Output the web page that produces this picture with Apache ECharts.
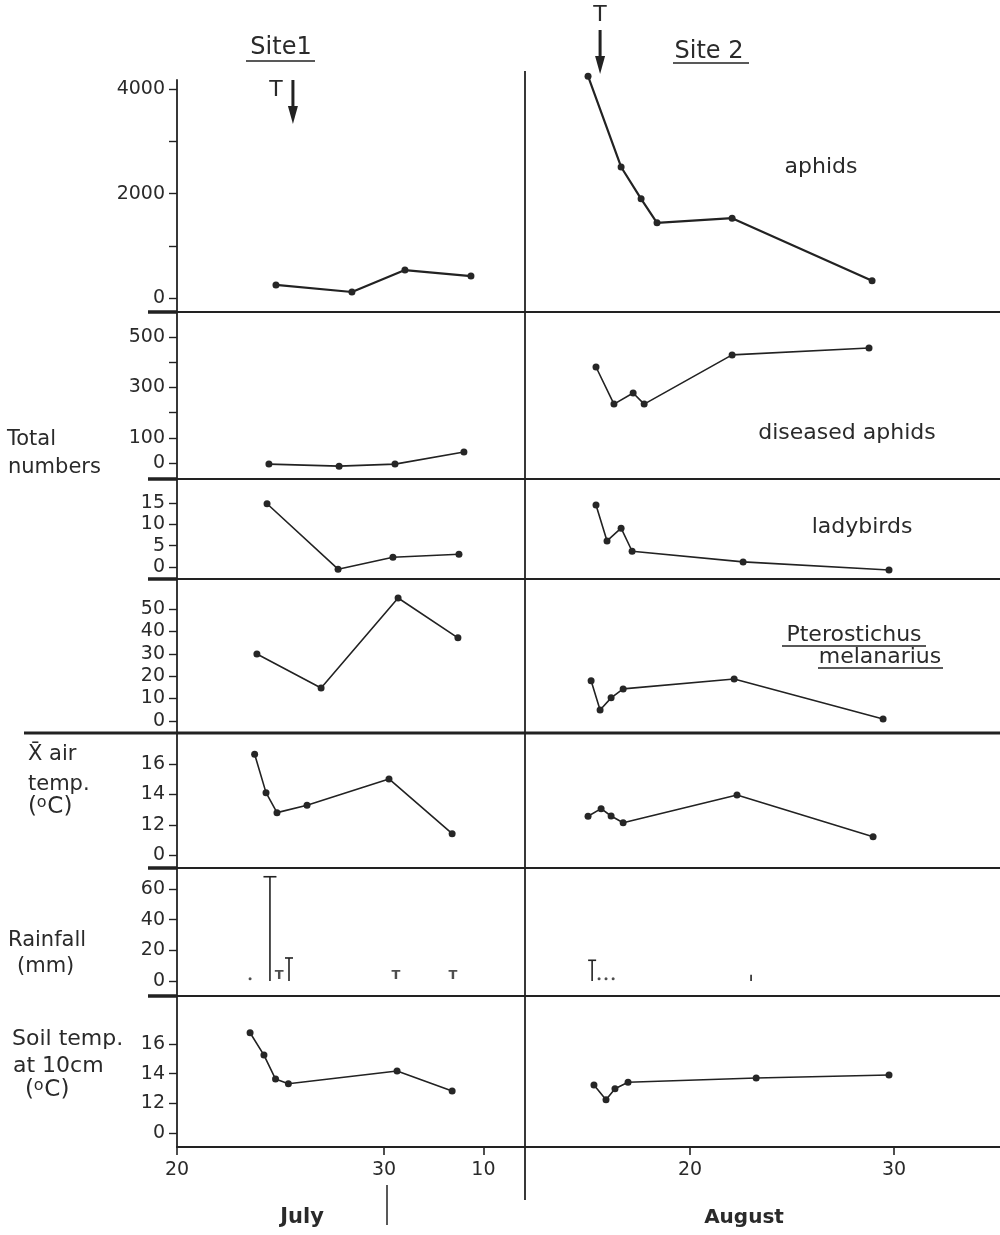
<!DOCTYPE html>
<html>
<head>
<meta charset="utf-8">
<script src="https://cdn.jsdelivr.net/npm/echarts@6/dist/echarts.min.js"></script>
<style>
  html, body { margin: 0; padding: 0; background: #fff; }
  #chart { width: 1000px; height: 1235px; }
</style>
</head>
<body>
<div id="chart"></div>
<script>
// ---- Sampling dates (Site 1 on the July scale, Site 2 on the August scale) and counts ----
const site1AphidDays = [24.78, 28.45, 31.01, 34.2];
const site1Aphids = [250, 115, 535, 420];
const site2AphidDays = [15.0, 16.62, 17.6, 18.38, 22.06, 28.92];
const site2Aphids = [4250, 2510, 1900, 1440, 1530, 330];

const site1DiseasedDays = [24.44, 27.83, 30.53, 33.86];
const site1Diseased = [-4, -12, -4, 44];
const site2DiseasedDays = [15.39, 16.27, 17.21, 17.75, 22.06, 28.77];
const site2Diseased = [381, 234, 278, 234, 429, 456];

const site1LadybirdDays = [24.35, 27.78, 30.43, 33.62];
const site1Ladybirds = [14.8, -0.5, 2.3, 3.0];
const site2LadybirdDays = [15.39, 15.93, 16.62, 17.16, 22.6, 29.75];
const site2Ladybirds = [14.5, 6.1, 9.1, 3.7, 1.2, -0.7];

const site1BeetleDays = [23.86, 26.96, 30.68, 33.57];
const site1Beetles = [29.9, 14.7, 54.9, 37.1];
const site2BeetleDays = [15.15, 15.59, 16.13, 16.72, 22.16, 29.46];
const site2Beetles = [17.9, 4.9, 10.3, 14.3, 18.75, 0.9];

const site1AirDays = [23.75, 24.3, 24.83, 26.28, 30.24, 33.29];
const site1AirTemp = [16.64, 14.12, 12.81, 13.29, 15.02, 11.43];
const site2AirDays = [15.0, 15.64, 16.13, 16.72, 22.3, 28.97];
const site2AirTemp = [12.57, 13.07, 12.59, 12.15, 13.97, 11.23];

// rainfall: measured falls (mm), traces (T) and very small falls (dots)
const site1RainDays = [24.49, 25.41];
const site1Rain = [68, 15];
const site1TraceDays = [24.93, 30.58, 33.33];
const site1DropDays = [23.53];
const site2RainDays = [15.2, 22.99];
const site2Rain = [13.5, 4];
const site2DropDays = [15.54, 15.88, 16.23];

const site1SoilDays = [23.53, 24.2, 24.76, 25.38, 30.63, 33.29];
const site1SoilTemp = [16.77, 15.26, 13.64, 13.32, 14.18, 12.83];
const site2SoilDays = [15.29, 15.88, 16.32, 16.96, 23.24, 29.75];
const site2SoilTemp = [13.24, 12.24, 12.99, 13.42, 13.71, 13.91];

// insecticide treatment dates (T arrows)
const site1TreatDay = 25.6;
const site2TreatDay = 15.59;

// ---- Tick values and labels ----
const aphidTicks = [0, 1000, 2000, 3000, 4000];
const aphidTickLabels = [0, 2000, 4000];
const diseasedTicks = [0, 100, 200, 300, 400, 500];
const diseasedTickLabels = [0, 100, 300, 500];
const ladybirdTicks = [0, 5, 10, 15];
const beetleTicks = [0, 10, 20, 30, 40, 50];
const rainTicks = [0, 20, 40, 60];
// temperature scales are broken: the lowest tick stands for 0
const tempTicks = [10, 12, 14, 16];
const tempTickText = ['0', '12', '14', '16'];
const julyTicks = [20, 30, 34.8];
const julyTickText = ['20', '30', '10'];
const augustTicks = [20, 30];

// ---- Layout ----
const FONT = '"DejaVu Sans", sans-serif';
const INK = '#222';
const TEXT = '#2a2a2a';
const AXIS_X = 177, DIV_X = 525, RIGHT_EDGE = 1000;
const JULY_RANGE = [20, 36.81];
const AUG_RANGE = [11.91, 35.19];

const zip = (xs, ys) => xs.map((x, i) => [x, ys[i]]);
const fmt = (vals, texts) => v => { const i = vals.indexOf(v); return i >= 0 ? texts[i] : String(v); };

const rows = [
  { top: 80, topRight: 71, bottom: 312, min: -268, max: 4176, maxRight: 4349,
    ticks: aphidTicks, labels: aphidTickLabels, left: zip(site1AphidDays, site1Aphids), right: zip(site2AphidDays, site2Aphids), width: 2.2 },
  { top: 312, bottom: 479, min: -63, max: 599, ticks: diseasedTicks, labels: diseasedTickLabels,
    left: zip(site1DiseasedDays, site1Diseased), right: zip(site2DiseasedDays, site2Diseased) },
  { top: 479, bottom: 579, min: -2.8, max: 20.6, ticks: ladybirdTicks, labels: ladybirdTicks,
    left: zip(site1LadybirdDays, site1Ladybirds), right: zip(site2LadybirdDays, site2Ladybirds) },
  { top: 579, bottom: 733, min: -5.4, max: 63.4, ticks: beetleTicks, labels: beetleTicks,
    left: zip(site1BeetleDays, site1Beetles), right: zip(site2BeetleDays, site2Beetles) },
  { top: 733, bottom: 868, min: 9.18, max: 18.03, ticks: tempTicks, labels: tempTicks, formatter: fmt(tempTicks, tempTickText),
    left: zip(site1AirDays, site1AirTemp), right: zip(site2AirDays, site2AirTemp) },
  { top: 868, bottom: 996, min: -9.8, max: 73.7, ticks: rainTicks, labels: rainTicks, rain: true },
  { top: 996, bottom: 1147, min: 9.05, max: 19.25, ticks: tempTicks, labels: tempTicks, formatter: fmt(tempTicks, tempTickText),
    left: zip(site1SoilDays, site1SoilTemp), right: zip(site2SoilDays, site2SoilTemp) }
];

const grids = [], xAxes = [], yAxes = [], series = [];
const last = rows.length - 1;

rows.forEach((r, i) => {
  const topR = r.topRight ?? r.top;
  grids.push({ left: AXIS_X, top: r.top, width: DIV_X - AXIS_X, height: r.bottom - r.top });
  grids.push({ left: DIV_X, top: topR, width: RIGHT_EDGE - DIV_X, height: r.bottom - topR });
  const isBottom = i === last;
  [[JULY_RANGE, julyTicks, julyTickText], [AUG_RANGE, augustTicks, augustTicks.map(String)]].forEach(([range, ticks, texts], side) => {
    xAxes.push({
      type: 'value', gridIndex: 2 * i + side, min: range[0], max: range[1],
      show: isBottom, splitLine: { show: false },
      axisLine: { show: isBottom, onZero: false, lineStyle: { color: INK, width: 1.8 } },
      axisTick: { show: isBottom, inside: false, length: 8, customValues: ticks, lineStyle: { color: INK, width: 1.6 } },
      axisLabel: { show: isBottom, customValues: ticks, formatter: fmt(ticks, texts), margin: 14,
                   fontFamily: FONT, fontSize: 19, color: TEXT }
    });
  });
  yAxes.push({
    type: 'value', gridIndex: 2 * i, min: r.min, max: r.max, splitLine: { show: false },
    axisLine: { show: true, onZero: false, lineStyle: { color: INK, width: 1.8 } },
    axisTick: { show: true, length: 8, customValues: r.ticks, lineStyle: { color: INK, width: 1.4 } },
    axisLabel: { show: true, customValues: r.labels, formatter: r.formatter || (v => String(v)), margin: 12,
                 fontFamily: FONT, fontSize: 19, color: TEXT }
  });
  yAxes.push({ type: 'value', gridIndex: 2 * i + 1, min: r.min, max: r.maxRight ?? r.max, show: false, splitLine: { show: false } });

  if (!r.rain) {
    [r.left, r.right].forEach((data, side) => {
      series.push({
        type: 'line', xAxisIndex: 2 * i + side, yAxisIndex: 2 * i + side, data,
        symbol: 'circle', symbolSize: 7, showSymbol: true,
        lineStyle: { color: INK, width: r.width || 1.6 },
        itemStyle: { color: '#262626' }, z: 5
      });
    });
  }
});

// rainfall marks: stems from 0 with a cap on the larger falls
function rainBar(params, api) {
  const v = api.value(1);
  const base = api.coord([api.value(0), 0]);
  const top = api.coord([api.value(0), v]);
  const cap = v > 50 ? 13 : (v >= 8 ? 8 : 0);
  const style = { stroke: INK, lineWidth: 1.6 };
  const children = [{ type: 'line', shape: { x1: base[0], y1: base[1], x2: top[0], y2: top[1] }, style }];
  if (cap) children.push({ type: 'line', shape: { x1: top[0] - cap / 2, y1: top[1], x2: top[0] + cap / 2, y2: top[1] }, style });
  return { type: 'group', children };
}
const rainRow = rows.findIndex(r => r.rain);
[[site1RainDays, site1Rain], [site2RainDays, site2Rain]].forEach(([days, mm], side) => {
  series.push({ type: 'custom', xAxisIndex: 2 * rainRow + side, yAxisIndex: 2 * rainRow + side,
                renderItem: rainBar, data: zip(days, mm), z: 5 });
});
[site1DropDays, site2DropDays].forEach((days, side) => {
  series.push({ type: 'scatter', xAxisIndex: 2 * rainRow + side, yAxisIndex: 2 * rainRow + side,
                data: days.map(d => [d, 1.5]), symbolSize: 3, itemStyle: { color: INK }, z: 5 });
});
// trace amounts are marked with a letter T standing on the zero line
series.push({
  type: 'scatter', xAxisIndex: 2 * rainRow, yAxisIndex: 2 * rainRow,
  data: site1TraceDays.map(d => [d, 0]), symbolSize: 2, itemStyle: { color: 'rgba(0,0,0,0)' },
  label: { show: true, formatter: 'T', position: 'top', distance: -2,
           fontFamily: FONT, fontWeight: 'bold', fontSize: 13, color: INK }, z: 5
});

const chart = echarts.init(document.getElementById('chart'), null, { renderer: 'canvas' });
chart.setOption({
  animation: false,
  backgroundColor: '#fff',
  grid: grids, xAxis: xAxes, yAxis: yAxes, series
});

// ---- Frame lines, headings and side labels ----
const line = (x1, y1, x2, y2, w) => ({ type: 'line', silent: true, z: 10,
  shape: { x1, y1, x2, y2 }, style: { stroke: INK, lineWidth: w } });
const text = (t, x, y, size, o = {}) => ({ type: 'text', silent: true, z: 10, x, y,
  style: { text: t, fill: TEXT, font: `${o.weight || 'normal'} ${size}px ${FONT}`,
           align: o.align || 'center', verticalAlign: 'middle', textAlign: o.align || 'center', textVerticalAlign: 'middle' } });
// "(°C)" set with a raised o, as in the unit labels
const degC = (x, y, size) => [
  text('(', x, y, size, { align: 'left' }),
  text('o', x + size * 0.38, y - size * 0.2, Math.round(size * 0.68), { align: 'left' }),
  text('C)', x + size * 0.38 + size * 0.46, y, size, { align: 'left' })
];
const arrow = (x, yTop, yBottom) => ([
  line(x, yTop, x, yBottom - 14, 3),
  { type: 'polygon', silent: true, z: 10, shape: { points: [[x - 5, yBottom - 18], [x + 5, yBottom - 18], [x, yBottom]] }, style: { fill: INK } }
]);

const graphics = [];
rows.slice(0, -1).forEach((r, i) => {
  if (i === 3) {
    graphics.push(line(24, r.bottom, RIGHT_EDGE, r.bottom, 3));
  } else {
    graphics.push(line(148, r.bottom, RIGHT_EDGE, r.bottom, 1.8));
    graphics.push(line(148, r.bottom, AXIS_X, r.bottom, 3.5));
  }
});
graphics.push(line(DIV_X, 71, DIV_X, 1200, 1.8));
graphics.push(line(387, 1185, 387, 1225, 1.5));

const x1 = chart.convertToPixel({ gridIndex: 0 }, [site1TreatDay, 0])[0];
const x2 = chart.convertToPixel({ gridIndex: 1 }, [site2TreatDay, 0])[0];
graphics.push(...arrow(x1, 80, 124), text('T', x1 - 17, 90, 22));
graphics.push(...arrow(x2, 30, 74), text('T', x2, 15, 22));

graphics.push(
  text('Site1', 281, 48, 24), line(246, 61, 315, 61, 1.5),
  text('Site 2', 709, 52, 24), line(673, 63, 749, 63, 1.5),
  text('aphids', 821, 167, 22),
  text('diseased aphids', 847, 433, 22),
  text('ladybirds', 862, 527, 22),
  text('Pterostichus', 854, 635, 22), line(782, 646, 926, 646, 1.3),
  text('melanarius', 880, 657, 22), line(818, 668, 943, 668, 1.3),
  text('Total', 7, 440, 21, { align: 'left' }),
  text('numbers', 8, 468, 21, { align: 'left' }),
  text('X\u0304 air', 28, 755, 21, { align: 'left' }),
  text('temp.', 28, 785, 21, { align: 'left' }),
  ...degC(28, 807, 23),
  text('Rainfall', 8, 941, 21, { align: 'left' }),
  text('(mm)', 17, 967, 21, { align: 'left' }),
  text('Soil temp.', 12, 1039, 22, { align: 'left' }),
  text('at 10cm', 13, 1066, 22, { align: 'left' }),
  ...degC(25, 1090, 23),
  text('July', 302, 1218, 21, { weight: 'bold' }),
  text('August', 744, 1218, 20, { weight: 'bold' })
);

chart.setOption({ graphic: { elements: graphics } });
</script>
</body>
</html>
